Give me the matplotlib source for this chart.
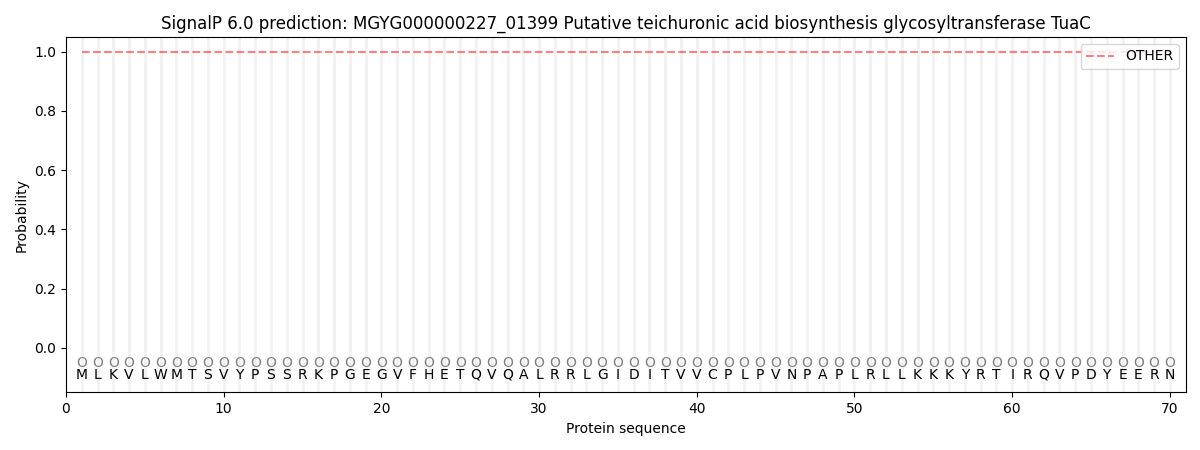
import numpy as np
import matplotlib
matplotlib.use("Agg")
import matplotlib.pyplot as plt

sequence = list("MLKVLWMTSVYPSSRKPGEGVFHETQVQALRRLGIDITVVCPLPVNPAPLRLLKKKYRTIRQVPDYEERN")
positions = np.arange(1, len(sequence) + 1)
# probability of class OTHER at each residue (all ~1.0)
other_prob = [1.0] * len(sequence)
labels = ["O"] * len(sequence)

fig, ax = plt.subplots(figsize=(12, 4.5), dpi=100)

for p in positions:
    ax.axvline(p, color="#d3d3d3", alpha=0.3, lw=2, zorder=0)

ax.plot(positions, other_prob, ls="--", color="red", alpha=0.5, lw=1.5, label="OTHER")

for p, lab, aa in zip(positions, labels, sequence):
    ax.text(p, -0.05, lab, ha="center", va="center", fontsize=10, color="grey")
    ax.text(p, -0.09, aa, ha="center", va="center", fontsize=10, color="black")

ax.set_xlim(0, 71)
ax.set_ylim(-0.15, 1.05)
ax.set_xlabel("Protein sequence")
ax.set_ylabel("Probability")
ax.set_title("SignalP 6.0 prediction: MGYG000000227_01399 Putative teichuronic acid biosynthesis glycosyltransferase TuaC")
ax.legend(loc="upper right")

fig.subplots_adjust(left=0.055, right=0.988, top=0.918, bottom=0.128)
fig.savefig("out.png", dpi=100)
